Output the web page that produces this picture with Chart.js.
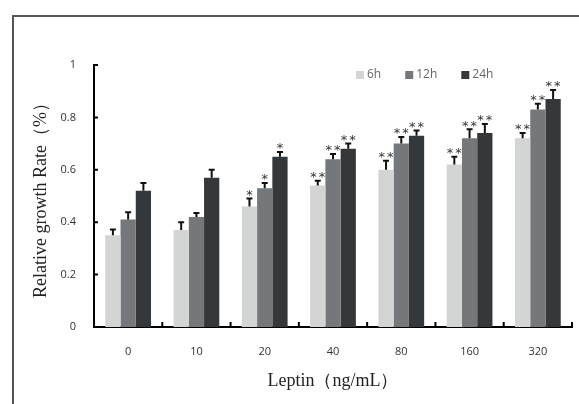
<!DOCTYPE html>
<html>
<head>
<meta charset="utf-8">
<script src="https://cdn.jsdelivr.net/npm/chart.js@4.4.0/dist/chart.umd.min.js"></script>
<style>
  html, body { margin: 0; padding: 0; background: #fff; }
  #wrap { position: relative; width: 579px; height: 404px; overflow: hidden; }
  #frame { position: absolute; left: 12px; top: 15px; width: 620px; height: 420px;
           border-left: 2px solid #555; border-top: 2px solid #555; }
  canvas { position: absolute; left: 0; top: 0; }
</style>
</head>
<body>
<div id="wrap">
  <div id="frame"></div>
  <canvas id="chart" width="579" height="404"></canvas>
</div>
<script>
// concentraciones de leptina (ng/mL)
const categorias = ['0', '10', '20', '40', '80', '160', '320'];

// series por tiempo
const nombres = ['6h', '12h', '24h'];
const valores6h  = [0.35, 0.37, 0.46, 0.54, 0.60, 0.62, 0.72];
const valores12h = [0.41, 0.42, 0.53, 0.64, 0.70, 0.72, 0.83];
const valores24h = [0.52, 0.57, 0.65, 0.68, 0.73, 0.74, 0.87];

// barras de error (solo hacia arriba)
const error6h  = [0.022, 0.03, 0.03, 0.018, 0.035, 0.03, 0.02];
const error12h = [0.028, 0.015, 0.02, 0.02, 0.025, 0.035, 0.022];
const error24h = [0.03, 0.03, 0.018, 0.02, 0.02, 0.035, 0.035];

// significancia
const sig6h  = ['', '', '*', '**', '**', '**', '**'];
const sig12h = ['', '', '*', '**', '**', '**', '**'];
const sig24h = ['', '', '*', '**', '**', '**', '**'];

const colores = ['#d3d5d5', '#75787b', '#35383b'];

// barras de error + asteriscos
const errorBars = {
    id: 'errorBars',
    afterDatasetsDraw(chart) {
        const ctx = chart.ctx;
        const y = chart.scales.y;
        chart.data.datasets.forEach((ds, i) => {
            const meta = chart.getDatasetMeta(i);
            meta.data.forEach((bar, j) => {
                const top = y.getPixelForValue(ds.data[j] + ds.errores[j]);
                ctx.save();
                ctx.strokeStyle = '#111';
                ctx.lineWidth = 2;
                ctx.beginPath();
                ctx.moveTo(bar.x, bar.y);
                ctx.lineTo(bar.x, top);
                ctx.moveTo(bar.x - 3, top);
                ctx.lineTo(bar.x + 3, top);
                ctx.stroke();
                if (ds.sig[j]) {
                    ctx.fillStyle = '#333';
                    ctx.font = '13px "DejaVu Sans"';
                    ctx.letterSpacing = '2px';
                    ctx.textAlign = 'center';
                    ctx.textBaseline = 'middle';
                    ctx.fillText(ds.sig[j], bar.x + 1, top - 3);
                }
                ctx.restore();
            });
        });
    }
};

// ticks hacia adentro
const ticksInternos = {
    id: 'ticksInternos',
    afterDraw(chart) {
        const ctx = chart.ctx;
        const {x, y} = chart.scales;
        const area = chart.chartArea;
        ctx.save();
        ctx.strokeStyle = '#000';
        ctx.lineWidth = 2;
        ctx.beginPath();
        y.ticks.forEach((t, i) => {
            if (t.value === 0) return;
            const py = y.getPixelForTick(i);
            ctx.moveTo(area.left, py);
            ctx.lineTo(area.left + 4, py);
        });
        for (let i = 1; i <= categorias.length; i++) {
            const px = area.left + (area.right - area.left) * i / categorias.length;
            ctx.moveTo(px, area.bottom);
            ctx.lineTo(px, area.bottom - 5);
        }
        ctx.stroke();
        ctx.restore();
    }
};

// leyenda arriba a la derecha
const leyenda = {
    id: 'leyenda',
    afterDraw(chart) {
        const ctx = chart.ctx;
        let px = 356;
        const py = 75;
        ctx.save();
        ctx.font = '12px "Open Sans"';
        ctx.textBaseline = 'middle';
        chart.data.datasets.forEach(ds => {
            ctx.fillStyle = ds.backgroundColor;
            ctx.fillRect(px, py - 4, 8, 8);
            ctx.fillStyle = '#666';
            ctx.fillText(ds.label, px + 11, py);
            px += 11 + ctx.measureText(ds.label).width + 24;
        });
        ctx.restore();
    }
};

const valores = [valores6h, valores12h, valores24h];
const errores = [error6h, error12h, error24h];
const sigs = [sig6h, sig12h, sig24h];

new Chart(document.getElementById('chart'), {
    type: 'bar',
    data: {
        labels: categorias,
        datasets: nombres.map((n, i) => ({
            label: n,
            data: valores[i],
            errores: errores[i],
            sig: sigs[i],
            backgroundColor: colores[i],
            categoryPercentage: 0.67,
            barPercentage: 1.0
        }))
    },
    options: {
        responsive: false,
        animation: false,
        events: [],
        layout: { padding: { left: 20, right: 7, top: 65, bottom: 0 } },
        plugins: { legend: { display: false }, tooltip: { enabled: false } },
        scales: {
            x: {
                grid: { display: false },
                border: { color: '#000', width: 2 },
                ticks: { color: '#333', font: { family: 'Open Sans', size: 11 }, padding: 10 },
                title: {
                    display: true,
                    text: 'Leptin（ng/mL）',
                    color: '#222',
                    font: { family: 'Liberation Serif', size: 18 },
                    padding: { bottom: 12 }
                },
                afterFit: s => { s.height = 77; }
            },
            y: {
                min: 0,
                max: 1,
                ticks: {
                    stepSize: 0.2,
                    color: '#333',
                    font: { family: 'Open Sans', size: 11 },
                    padding: 10,
                    callback: v => String(Math.round(v * 10) / 10)
                },
                grid: { display: false },
                border: { color: '#000', width: 2 },
                title: {
                    display: true,
                    text: 'Relative growth Rate（%）',
                    color: '#222',
                    font: { family: 'Liberation Serif', size: 18 },
                    padding: { top: 10 }
                },
                afterFit: s => { s.width = 74; }
            }
        }
    },
    plugins: [errorBars, ticksInternos, leyenda]
});
</script>
</body>
</html>
